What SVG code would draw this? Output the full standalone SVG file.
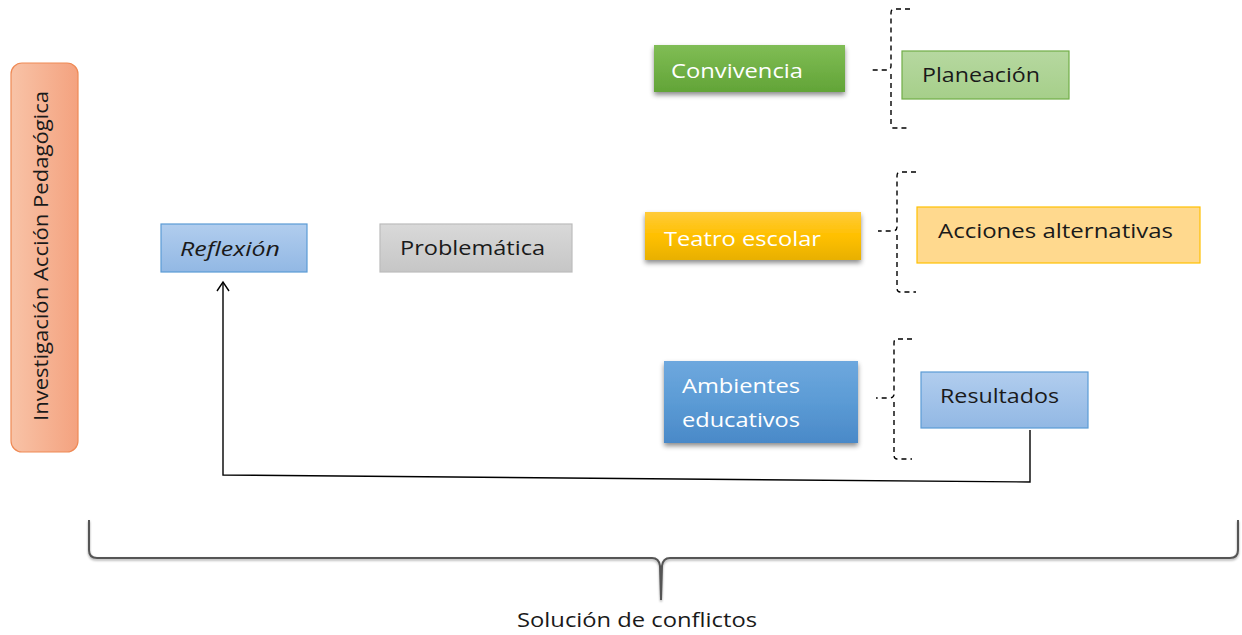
<svg xmlns="http://www.w3.org/2000/svg" width="1242" height="635" viewBox="0 0 1242 635">
<defs>
<linearGradient id="gOrange" x1="0" y1="0" x2="1" y2="0"><stop offset="0" stop-color="#f8c3a7"/><stop offset="1" stop-color="#f4a27f"/></linearGradient>
<linearGradient id="gLblue" x1="0" y1="0" x2="0" y2="1"><stop offset="0" stop-color="#b1cdee"/><stop offset="1" stop-color="#92b8e4"/></linearGradient>
<linearGradient id="gGray" x1="0" y1="0" x2="0" y2="1"><stop offset="0" stop-color="#d9d9d9"/><stop offset="1" stop-color="#c6c6c6"/></linearGradient>
<linearGradient id="gGreen" x1="0" y1="0" x2="0" y2="1"><stop offset="0" stop-color="#80bd55"/><stop offset="1" stop-color="#62a437"/></linearGradient>
<linearGradient id="gLgreen" x1="0" y1="0" x2="0" y2="1"><stop offset="0" stop-color="#b6d8a0"/><stop offset="1" stop-color="#a6cf8a"/></linearGradient>
<linearGradient id="gGold" x1="0" y1="0" x2="0" y2="1"><stop offset="0" stop-color="#ffcb3a"/><stop offset="0.5" stop-color="#ffc000"/><stop offset="1" stop-color="#e8b000"/></linearGradient>
<linearGradient id="gBlue" x1="0" y1="0" x2="0" y2="1"><stop offset="0" stop-color="#6ea8de"/><stop offset="0.5" stop-color="#5b9bd5"/><stop offset="1" stop-color="#4a89c8"/></linearGradient>
<filter id="shadow" x="-10%" y="-20%" width="120%" height="160%"><feDropShadow dx="0" dy="3" stdDeviation="2.5" flood-color="#000" flood-opacity="0.45"/></filter>
<filter id="bshadow" x="-5%" y="-20%" width="110%" height="160%"><feDropShadow dx="0" dy="1.5" stdDeviation="1" flood-color="#000" flood-opacity="0.35"/></filter>
<marker id="openArrow" viewBox="0 0 16 16" refX="14" refY="8" markerWidth="16" markerHeight="16" markerUnits="userSpaceOnUse" orient="auto">
<path d="M5 2 L14 8 L5 14" fill="none" stroke="#000" stroke-width="1.4"/>
</marker>
</defs>
<style>
text{font-family:"Open Sans","Liberation Sans",sans-serif;font-size:20px;}
.dark{fill:#1a1a1a;}
.white{fill:#ffffff;}
.brace{fill:none;stroke:#000;stroke-width:1.4;stroke-dasharray:5 4;}
.conn{fill:none;stroke:#000;stroke-width:1.4;}
</style>
<rect width="1242" height="635" fill="#ffffff"/>

<g id="node-investigacion">
<rect x="11" y="63" width="67" height="389" rx="11" fill="url(#gOrange)" stroke="#ef8a55" stroke-width="1.2"/>
<text class="dark" transform="translate(48,256) rotate(-90)" text-anchor="middle" textLength="330" lengthAdjust="spacingAndGlyphs">Investigación Acción Pedagógica</text>
</g>

<g id="node-reflexion">
<rect x="161" y="224" width="146" height="48" fill="url(#gLblue)" stroke="#5b9bd5" stroke-width="1.2"/>
<text class="dark" x="180" y="256" font-style="italic" textLength="100" lengthAdjust="spacingAndGlyphs">Reflexión</text>
</g>

<g id="node-problematica">
<rect x="380" y="224" width="192" height="48" fill="url(#gGray)" stroke="#bcbcbc" stroke-width="1.2"/>
<text class="dark" x="400" y="255" textLength="145" lengthAdjust="spacingAndGlyphs">Problemática</text>
</g>

<g id="node-convivencia">
<rect x="654" y="45" width="191" height="47" fill="url(#gGreen)" filter="url(#shadow)"/>
<text class="white" x="671" y="78" textLength="132" lengthAdjust="spacingAndGlyphs">Convivencia</text>
</g>

<g id="node-planeacion">
<rect x="902" y="51" width="167" height="48" fill="url(#gLgreen)" stroke="#70ad47" stroke-width="1.2"/>
<text class="dark" x="922" y="82" textLength="118" lengthAdjust="spacingAndGlyphs">Planeación</text>
</g>

<g id="node-teatro">
<rect x="645" y="212" width="216" height="48" fill="url(#gGold)" filter="url(#shadow)"/>
<text class="white" x="664" y="246" textLength="157" lengthAdjust="spacingAndGlyphs">Teatro escolar</text>
</g>

<g id="node-acciones">
<rect x="917" y="207" width="283" height="56" fill="#ffd98e" stroke="#ffc000" stroke-width="1.2"/>
<text class="dark" x="938" y="238" textLength="235" lengthAdjust="spacingAndGlyphs">Acciones alternativas</text>
</g>

<g id="node-ambientes">
<rect x="664" y="361" width="194" height="82" fill="url(#gBlue)" filter="url(#shadow)"/>
<text class="white" x="682" y="393" textLength="118" lengthAdjust="spacingAndGlyphs">Ambientes</text>
<text class="white" x="682" y="427" textLength="118" lengthAdjust="spacingAndGlyphs">educativos</text>
</g>

<g id="node-resultados">
<rect x="921" y="372" width="167" height="56" fill="url(#gLblue)" stroke="#5b9bd5" stroke-width="1.2"/>
<text class="dark" x="940" y="403" textLength="119" lengthAdjust="spacingAndGlyphs">Resultados</text>
</g>

<g id="node-solucion">
<text class="dark" x="637" y="627" text-anchor="middle" textLength="240" lengthAdjust="spacingAndGlyphs">Solución de conflictos</text>
</g>

<g id="connectors">
<path class="brace" d="M910 9 H894 Q891 9 891 13 V66 Q891 70 886 70 H872 M891 74 V124 Q891 128 894 128 H910"/>
<path class="brace" d="M916 172 H900 Q897 172 897 176 V227 Q897 231 892 231 H878 M897 235 V288 Q897 292 900 292 H916"/>
<path class="brace" d="M912 339 H897 Q894 339 894 343 V394 Q894 398 889 398 H876 M894 402 V455 Q894 459 897 459 H912"/>
<path class="conn" d="M1030 430 V482 L223 475 V282" marker-end="url(#openArrow)"/>
<path fill="none" stroke="#555" stroke-width="2" filter="url(#bshadow)" d="M89 520 V550 Q89 558 97 558 H652 Q659 558 660 566 L661 600 L662 566 Q663 558 670 558 H1230 Q1238 558 1238 550 V520"/>
</g>
</svg>
